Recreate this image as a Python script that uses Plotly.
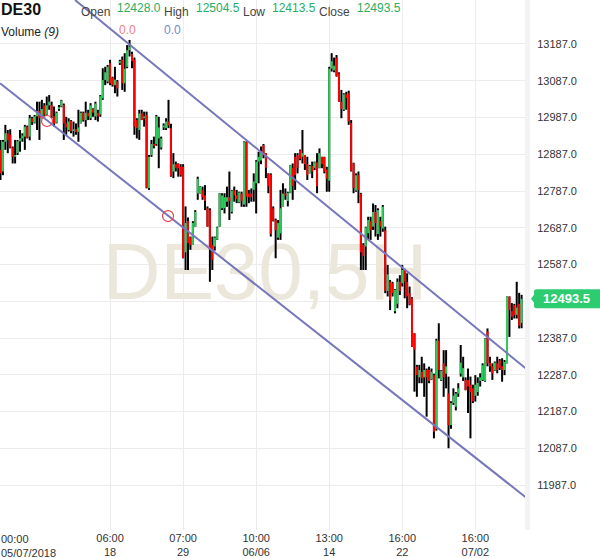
import plotly.graph_objects as go

# ---------------- data ----------------
opens = [12899, 12840, 12921, 12944, 12940, 12905, 12880, 12890, 12922, 12930,
         12935, 12962, 12935, 12985, 12973, 12990, 13005, 12985, 13020, 12995,
         13020, 13021, 12990, 12973, 13010, 13017, 13021, 12971, 12953, 12978,
         12950, 12955, 12948, 12972, 13000, 12980, 13000, 12985, 13010, 12990,
         13000, 12995, 13039, 13089, 13085, 13135, 13095, 13075, 13085, 13135,
         13144, 13080, 13125, 13170, 13160, 13144, 12980, 12953, 12998, 12985,
         12994, 12795, 12885, 12915, 12915, 12930, 12905, 12960, 12958, 12976,
         12958, 12840, 12860, 12862, 12853, 12853, 12620, 12705, 12660, 12640,
         12690, 12780, 12781, 12790, 12775, 12740, 12735, 12640, 12636, 12655,
         12690, 12740, 12740, 12758, 12770, 12730, 12788, 12775, 12756, 12780,
         12750, 12920, 12780, 12780, 12790, 12808, 12867, 12870, 12912, 12890,
         12835, 12831, 12740, 12708, 12660, 12672, 12745, 12780, 12760, 12782,
         12850, 12880, 12885, 12898, 12880, 12885, 12860, 12835, 12855, 12850,
         12865, 12850, 12880, 12880, 12845, 12815, 13120, 13115, 13150, 13107,
         13030, 13008, 13050, 13053, 12972, 12862, 12788, 12830, 12780, 12640,
         12636, 12672, 12705, 12690, 12730, 12670, 12705, 12685, 12680, 12515,
         12540, 12536, 12460, 12480, 12540, 12536, 12572, 12540, 12510, 12495,
         12400, 12309, 12280, 12295, 12280, 12300, 12300, 12275, 12286, 12140,
         12380, 12272, 12318, 12290, 12236, 12150, 12210, 12200, 12236, 12290,
         12280, 12273, 12273, 12260, 12250, 12230, 12240, 12270, 12273, 12270,
         12405, 12320, 12310, 12300, 12318, 12326, 12310, 12300, 12318, 12500,
         12460, 12477, 12450, 12480, 12428.0]
highs = [12926, 12926, 12967, 12953, 12955, 12908, 12926, 12926, 12953, 12944,
         12967, 12965, 12994, 12989, 12994, 13030, 13030, 13035, 13026, 13044,
         13048, 13030, 13017, 13003, 13021, 13035, 13025, 12989, 12985, 12980,
         12976, 12971, 13008, 13003, 13003, 13030, 13008, 13026, 13012, 13030,
         13008, 13048, 13121, 13125, 13130, 13144, 13098, 13125, 13089, 13144,
         13153, 13162, 13184, 13198, 13166, 13150, 12985, 13008, 13008, 13003,
         13003, 12885, 12926, 12935, 12994, 12989, 12935, 12971, 12985, 13035,
         12970, 12890, 12867, 12862, 12860, 12860, 12745, 12715, 12663, 12705,
         12735, 12826, 12800, 12799, 12803, 12745, 12740, 12663, 12663, 12690,
         12781, 12781, 12781, 12799, 12840, 12790, 12799, 12790, 12785, 12785,
         12922, 12922, 12790, 12794, 12835, 12871, 12894, 12908, 12915, 12890,
         12835, 12835, 12745, 12712, 12708, 12790, 12808, 12794, 12785, 12858,
         12862, 12890, 12890, 12900, 12953, 12885, 12880, 12858, 12867, 12867,
         12890, 12903, 12880, 12880, 12853, 13125, 13162, 13150, 13157, 13110,
         13062, 13053, 13057, 13060, 12980, 12864, 12835, 12840, 12782, 12645,
         12690, 12717, 12717, 12753, 12749, 12740, 12717, 12749, 12690, 12586,
         12545, 12540, 12520, 12549, 12558, 12586, 12575, 12563, 12527, 12498,
         12400, 12314, 12314, 12336, 12318, 12304, 12309, 12304, 12290, 12385,
         12427, 12300, 12354, 12354, 12282, 12215, 12250, 12240, 12264, 12368,
         12336, 12280, 12304, 12282, 12260, 12286, 12280, 12291, 12318, 12386,
         12413, 12336, 12318, 12323, 12336, 12330, 12332, 12327, 12500, 12500,
         12482, 12480, 12540, 12510, 12504.5]
lows = [12817, 12830, 12899, 12890, 12903, 12862, 12862, 12885, 12894, 12921,
        12899, 12930, 12925, 12967, 12971, 12953, 12926, 12985, 12990, 12994,
        13008, 12985, 12962, 12971, 13005, 13015, 12926, 12940, 12949, 12944,
        12935, 12940, 12921, 12971, 12976, 12962, 12980, 12980, 12989, 12980,
        12976, 12989, 13035, 13075, 13080, 13075, 13071, 13053, 13044, 13130,
        13062, 13057, 13121, 13153, 13121, 12940, 12930, 12926, 12980, 12962,
        12794, 12790, 12880, 12903, 12910, 12849, 12900, 12953, 12953, 12958,
        12826, 12822, 12840, 12826, 12826, 12604, 12572, 12572, 12627, 12640,
        12690, 12763, 12780, 12763, 12735, 12690, 12540, 12572, 12625, 12654,
        12690, 12735, 12726, 12744, 12708, 12726, 12758, 12754, 12754, 12744,
        12744, 12744, 12754, 12758, 12758, 12726, 12808, 12860, 12876, 12822,
        12781, 12663, 12704, 12604, 12654, 12654, 12745, 12763, 12745, 12781,
        12763, 12790, 12835, 12871, 12862, 12844, 12817, 12835, 12822, 12844,
        12781, 12849, 12849, 12835, 12785, 12785, 13112, 13110, 13098, 13030,
        12985, 13005, 13008, 12967, 12840, 12781, 12785, 12754, 12572, 12572,
        12572, 12654, 12654, 12681, 12663, 12654, 12663, 12676, 12509, 12500,
        12463, 12500, 12454, 12468, 12504, 12527, 12495, 12468, 12476, 12363,
        12241, 12227, 12264, 12264, 12227, 12173, 12264, 12273, 12114, 12135,
        12277, 12270, 12227, 12250, 12087, 12140, 12205, 12190, 12227, 12282,
        12270, 12245, 12183, 12114, 12210, 12214, 12230, 12255, 12270, 12268,
        12310, 12295, 12273, 12298, 12291, 12300, 12268, 12286, 12318, 12390,
        12436, 12440, 12440, 12413, 12413.5]
closes = [12835, 12921, 12944, 12925, 12905, 12880, 12885, 12922, 12930, 12938,
          12962, 12932, 12985, 12975, 12990, 13005, 12985, 13010, 12995, 13020,
          13030, 12990, 12970, 13000, 13015, 13033, 12971, 12960, 12976, 12950,
          12955, 12948, 12960, 13000, 12980, 13000, 12990, 13020, 13000, 13025,
          12990, 13045, 13089, 13110, 13125, 13080, 13075, 13090, 13066, 13140,
          13080, 13120, 13170, 13180, 13140, 12962, 12958, 12998, 12980, 12990,
          12796, 12880, 12915, 12910, 12990, 12960, 12930, 12965, 12976, 12965,
          12826, 12860, 12850, 12849, 12830, 12604, 12700, 12645, 12640, 12700,
          12730, 12820, 12799, 12770, 12760, 12690, 12627, 12600, 12660, 12688,
          12780, 12775, 12770, 12770, 12760, 12788, 12775, 12765, 12783, 12760,
          12920, 12772, 12770, 12770, 12813, 12867, 12880, 12895, 12885, 12850,
          12800, 12670, 12706, 12680, 12700, 12740, 12780, 12775, 12782, 12857,
          12800, 12830, 12850, 12875, 12890, 12860, 12830, 12855, 12840, 12865,
          12800, 12890, 12860, 12840, 12820, 13120, 13140, 13128, 13100, 13030,
          13010, 13050, 13040, 12976, 12842, 12795, 12830, 12790, 12620, 12610,
          12688, 12708, 12680, 12730, 12700, 12735, 12690, 12744, 12515, 12560,
          12490, 12509, 12518, 12540, 12515, 12572, 12540, 12500, 12478, 12363,
          12355, 12286, 12300, 12278, 12300, 12280, 12270, 12295, 12132, 12380,
          12300, 12298, 12280, 12310, 12150, 12210, 12230, 12236, 12250, 12320,
          12305, 12245, 12255, 12240, 12215, 12260, 12265, 12280, 12313, 12385,
          12318, 12310, 12290, 12320, 12300, 12305, 12300, 12322, 12500, 12463,
          12445, 12450, 12470, 12420, 12493.5]

x_tick_index = [45, 75, 105, 135, 165, 195]
x_tick_labels = ["06:00<br>18", "07:00<br>29", "10:00<br>06/06",
                 "13:00<br>14", "16:00<br>22", "16:00<br>07/02"]
first_tick_label = "00:00<br>05/07/2018"

y_tick_values = [11987.0, 12087.0, 12187.0, 12287.0, 12387.0, 12487.0,
                 12587.0, 12687.0, 12787.0, 12887.0, 12987.0, 13087.0, 13187.0]
y_tick_labels = ["11987.0", "12087.0", "12187.0", "12287.0", "12387.0", "",
                 "12587.0", "12687.0", "12787.0", "12887.0", "12987.0",
                 "13087.0", "13187.0"]

# channel anchors (candle index, price)
upper_channel_x = [30.6, 217.5]
upper_channel_y = [13306.7, 12294.5]
lower_channel_x = [-0.2, 217.5]
lower_channel_y = [13080.0, 11944.3]
anchor_x = [19.1, 68.8]
anchor_y = [12977.5, 12718.9]

symbol = "DE30"
watermark = "DE30,5H"
header_labels = ["Open", "High", "Low", "Close"]
header_values = ["12428.0", "12504.5", "12413.5", "12493.5"]
volume_label = "Volume <i>(9)</i>"
volume_values = ["0.0", "0.0"]
last_price = 12493.5
last_price_text = "12493.5"

# ---------------- styling ----------------
GREEN = "#2fcc5b"
RED = "#ff0000"
CHAN = "#7676bc"
GRID = "#ececec"
W, H = 600, 558
ML, MR, MT, MB = 0, 75, 0, 28
PW = W - ML - MR
PH = H - MT - MB
FONT = "Arial, Liberation Sans, sans-serif"

fig = go.Figure()

# watermark (drawn first so it sits below the candles)
fig.add_trace(go.Scatter(
    x=[108.6], y=[12548.0], mode="text", text=[watermark],
    textfont=dict(family="Liberation Sans, Arial", size=80, color="#ece7db"),
    hoverinfo="skip", showlegend=False))

wx, wy, gx, gy, rx, ry = [], [], [], [], [], []
for i, (o, h, l, c) in enumerate(zip(opens, highs, lows, closes)):
    wx += [i, i, None]
    wy += [l, h, None]
    if c > o:
        gx += [i, i, None]
        gy += [o, c, None]
    elif c < o:
        rx += [i, i, None]
        ry += [o, c, None]

fig.add_trace(go.Scatter(x=wx, y=wy, mode="lines", line=dict(color="#000000", width=2),
                         hoverinfo="skip", showlegend=False, connectgaps=False))
fig.add_trace(go.Scatter(x=gx, y=gy, mode="lines", line=dict(color=GREEN, width=2),
                         hoverinfo="skip", showlegend=False, connectgaps=False))
fig.add_trace(go.Scatter(x=rx, y=ry, mode="lines", line=dict(color=RED, width=2),
                         hoverinfo="skip", showlegend=False, connectgaps=False))

# channel lines
fig.add_trace(go.Scatter(x=upper_channel_x, y=upper_channel_y, mode="lines",
                         line=dict(color=CHAN, width=2), hoverinfo="skip", showlegend=False))
fig.add_trace(go.Scatter(x=lower_channel_x, y=lower_channel_y, mode="lines",
                         line=dict(color=CHAN, width=2), hoverinfo="skip", showlegend=False))
fig.add_trace(go.Scatter(x=anchor_x, y=anchor_y, mode="markers",
                         marker=dict(symbol="circle-open", size=11, color="#e8404a",
                                     line=dict(width=1.2, color="#e8404a")),
                         hoverinfo="skip", showlegend=False))

fig.update_layout(
    width=W, height=H,
    margin=dict(l=ML, r=MR, t=MT, b=MB),
    paper_bgcolor="white", plot_bgcolor="white",
    showlegend=False,
    font=dict(family=FONT, color="#333333", size=11),
    xaxis=dict(range=[-0.2, 215.4], tickmode="array", tickvals=x_tick_index,
               ticktext=x_tick_labels, showgrid=True, gridcolor=GRID, gridwidth=1,
               zeroline=False, showline=False, ticks="", tickfont=dict(size=11, color="#333333"),
               fixedrange=True),
    yaxis=dict(range=[11864.6, 13306.7], side="right", tickmode="array",
               tickvals=y_tick_values, ticktext=y_tick_labels, showgrid=True,
               gridcolor=GRID, gridwidth=1, zeroline=False, showline=False,
               ticks="outside", ticklen=9, tickcolor="rgba(0,0,0,0)",
               tickfont=dict(size=11, color="#333333"), fixedrange=True),
)

# hatched separator strip (approximated by a faint band)
fig.add_shape(type="rect", xref="paper", yref="paper", x0=1, x1=1 + 5 / PW, y0=0, y1=1,
              fillcolor="#f3f3f3", line=dict(width=0), layer="below")

# first x label, left aligned at the chart edge
fig.add_annotation(xref="paper", yref="paper", x=0, y=0, xanchor="left", yanchor="top",
                   text=first_tick_label, showarrow=False, align="left",
                   font=dict(size=11, color="#333333"), yshift=-1, xshift=-1)

# last price label
fig.add_shape(type="path", xref="paper", yref="y", xsizemode="pixel", ysizemode="pixel",
              xanchor=1, yanchor=last_price,
              path="M 6,0 L 9,-4 L 9,-7 Q 9,-9.5 11.5,-9.5 L 80,-9.5 L 80,9.5 L 11.5,9.5 Q 9,9.5 9,7 L 9,4 Z",
              fillcolor="#2ecc71", line=dict(width=0))
fig.add_annotation(xref="paper", yref="y", x=1, y=last_price, xanchor="center", yanchor="middle",
                   xshift=41.5, text="<b>" + last_price_text + "</b>", showarrow=False,
                   font=dict(size=13, color="white"))

# header
def px(xp):
    return xp / PW

def py(yp):
    return 1 - yp / PH

fig.add_annotation(xref="paper", yref="paper", x=px(-1), y=py(10), xanchor="left", yanchor="middle",
                   text="<b>" + symbol + "</b>", showarrow=False,
                   font=dict(size=16, color="#111111"))
label_x = [79.5, 163.4, 242, 318]
value_x = [116.4, 195, 271, 355.7]
for lab, val, lx, vx in zip(header_labels, header_values, label_x, value_x):
    fig.add_annotation(xref="paper", yref="paper", x=px(lx - 1), y=py(11.5), xanchor="left",
                       yanchor="middle", text=lab, showarrow=False,
                       font=dict(size=12, color="#444444"))
    fig.add_annotation(xref="paper", yref="paper", x=px(vx - 1), y=py(7.5), xanchor="left",
                       yanchor="middle", text=val, showarrow=False,
                       font=dict(size=12, color="#27ae60"))
fig.add_annotation(xref="paper", yref="paper", x=px(-1), y=py(32), xanchor="left", yanchor="middle",
                   text=volume_label, showarrow=False, font=dict(size=12, color="#222222"))
for val, vx, col in zip(volume_values, [118, 163.4], ["#f08080", "#6b8ed6"]):
    fig.add_annotation(xref="paper", yref="paper", x=px(vx - 1), y=py(30), xanchor="left",
                       yanchor="middle", text=val, showarrow=False, font=dict(size=12, color=col))

fig.write_html("out.html", config={"displayModeBar": False},
               post_script="document.body.style.margin='0px';document.body.style.overflow='hidden';")
